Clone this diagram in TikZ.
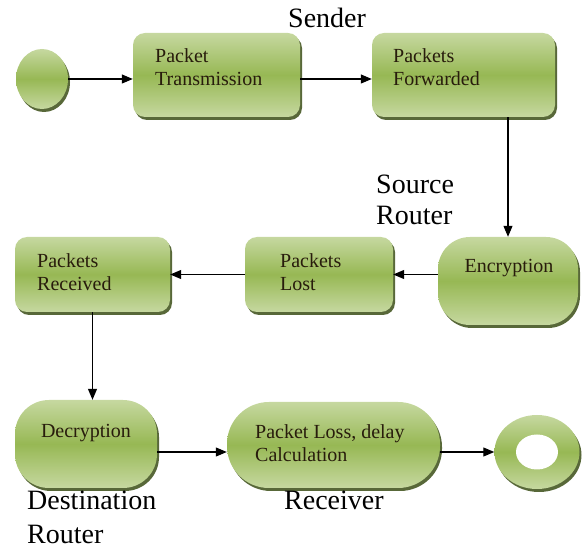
\documentclass[tikz,border=0pt]{standalone}
\usepackage{fontspec}
\setmainfont{Liberation Serif}
\usetikzlibrary{shapes.geometric,shadows,arrows.meta}
\definecolor{gLight}{RGB}{198,216,160}
\definecolor{gMid}{RGB}{151,184,84}
\definecolor{gShadow}{RGB}{70,88,36}
\definecolor{inkText}{RGB}{40,28,12}
\begin{document}
\begin{tikzpicture}[x=1pt, y=-1pt,
  greenfill/.style={top color=gLight, bottom color=gLight, middle color=gMid,
    drop shadow={shadow xshift=2pt, shadow yshift=-3pt, fill=gShadow, opacity=0.9}},
  box/.style={greenfill, rectangle, rounded corners=12pt, inner sep=0pt},
  pill/.style={greenfill, rectangle, rounded corners=#1, inner sep=0pt},
  boxtext/.style={font=\fontsize{20}{23}\selectfont, align=left, text=inkText, inner sep=0pt},
  tag/.style={font=\fontsize{28}{31}\selectfont, align=left, inner sep=0pt},
  flow/.style={line width=1.1pt, -{Triangle[length=11pt, width=9pt]}}]
\useasboundingbox (0,0) rectangle (582,548);
\node[greenfill, ellipse, minimum width=52pt, minimum height=60pt, inner sep=0pt] (start) at (42,79) {};
\node[box, minimum width=167pt, minimum height=84pt] (trans) at (216.5,75) {};
\node[box, minimum width=183pt, minimum height=84pt] (fwd) at (463.5,75) {};
\node[pill=32pt, minimum width=140pt, minimum height=88pt] (encr) at (508,281) {};
\node[box, minimum width=148pt, minimum height=75pt] (lost) at (319,274.5) {};
\node[box, minimum width=155pt, minimum height=75pt] (recv) at (92.5,274.5) {};
\node[pill=34pt, minimum width=142pt, minimum height=88pt] (decr) at (86,444) {};
\node[pill=42pt, minimum width=213pt, minimum height=86pt] (calc) at (333.5,445) {};
\node[greenfill, ellipse, minimum width=85pt, minimum height=74pt, inner sep=0pt] (stop) at (537,452) {};
\node[ellipse, fill=white, minimum width=42pt, minimum height=35pt, inner sep=0pt] (hole) at (stop) {};
\node[boxtext, anchor=west] (transT) at (155,67) {Packet\\Transmission};
\node[boxtext, anchor=west] (fwdT) at (393,67) {Packets\\Forwarded};
\node[boxtext] (encrT) at (509,268) {Encryption};
\node[boxtext, anchor=west] (lostT) at (280,272) {Packets\\Lost};
\node[boxtext, anchor=west] (recvT) at (37,272) {Packets\\Received};
\node[boxtext] (decrT) at (86,433) {Decryption};
\node[boxtext, anchor=west] (calcT) at (255,443) {Packet Loss, delay\\Calculation};
\node[tag, anchor=west] (sender) at (288,18) {Sender};
\node[tag, anchor=west] (source) at (376,200) {Source\\Router};
\node[tag, anchor=west, font=\fontsize{28}{34}\selectfont] (dest) at (27,517) {Destination\\Router};
\node[tag, anchor=west] (receiver) at (284,500) {Receiver};
\draw[flow] (start.east) -- (start.east -| trans.west);
\draw[flow] (trans.east |- start) -- (fwd.west |- start);
\draw[flow] (fwd.south -| encr) -- (encr.north);
\draw[flow] (encr.west |- lost.east) -- (lost.east);
\draw[flow] (lost.west) -- (recv.east);
\draw[flow] (recv.south) -- (recv.south |- decr.north);
\draw[flow] (decr.east |- stop) -- (calc.west |- stop);
\draw[flow] (calc.east |- stop) -- (stop.west);
\end{tikzpicture}
\end{document}
